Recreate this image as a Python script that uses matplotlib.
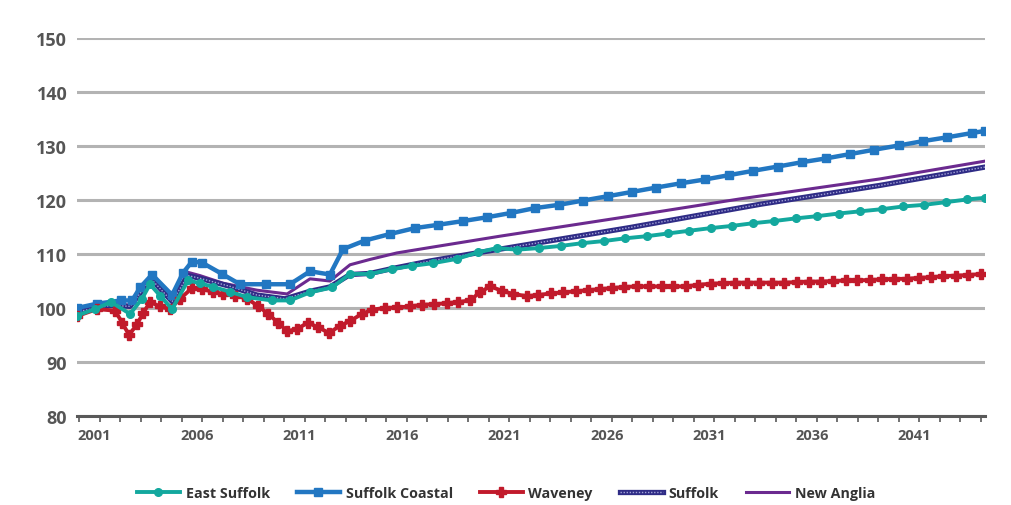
import matplotlib
matplotlib.use("Agg")
import matplotlib.pyplot as plt

plt.rcParams['font.family'] = ['Open Sans', 'DejaVu Sans']

# ---- data (index, 2001 = 100) ----
east_suffolk_x = [2000.90, 2001.78, 2002.56, 2003.49, 2004.07, 2004.46, 2004.95, 2005.54,
                  2006.32, 2006.90, 2007.54, 2008.37, 2009.20, 2010.41, 2011.29, 2012.27,
                  2013.34, 2014.22, 2015.20, 2016.27, 2017.24, 2018.27, 2019.44, 2020.46,
                  2021.39, 2022.37, 2023.44, 2024.51, 2025.54, 2026.61, 2027.63, 2028.71,
                  2029.73, 2030.76, 2031.83, 2032.85, 2033.88, 2034.90, 2035.98, 2037.00,
                  2038.07, 2039.10, 2040.17, 2041.20, 2042.22, 2043.29, 2044.32, 2045.20]
east_suffolk = [98.6, 99.8, 101.1, 98.9, 101.7, 104.4, 102.3, 99.8,
                105.1, 104.6, 103.9, 103.0, 102.0, 101.4, 101.4, 102.9,
                103.8, 106.3, 106.3, 107.2, 107.8, 108.3, 109.1, 110.3,
                111.1, 110.8, 111.1, 111.5, 112.0, 112.4, 112.9, 113.3,
                113.8, 114.3, 114.8, 115.2, 115.7, 116.1, 116.6, 117.0,
                117.5, 117.9, 118.3, 118.8, 119.1, 119.6, 120.1, 120.4]

coastal_x = [2000.90, 2001.88, 2003.05, 2003.59, 2003.98, 2004.56, 2005.54, 2006.07,
             2006.51, 2007.00, 2007.98, 2008.85, 2010.12, 2011.29, 2012.27, 2013.24,
             2013.88, 2014.95, 2016.17, 2017.39, 2018.51, 2019.73, 2020.90, 2022.07,
             2023.24, 2024.41, 2025.59, 2026.80, 2027.98, 2029.15, 2030.37, 2031.54,
             2032.71, 2033.88, 2035.10, 2036.27, 2037.44, 2038.61, 2039.78, 2041.00,
             2042.17, 2043.34, 2044.56, 2045.20]
suffolk_coastal = [100.0, 100.8, 101.4, 101.4, 103.8, 106.2, 102.4, 106.5,
                   108.6, 108.4, 106.3, 104.4, 104.4, 104.4, 106.8, 106.2,
                   110.9, 112.5, 113.7, 114.8, 115.4, 116.1, 116.8, 117.6,
                   118.5, 119.1, 119.9, 120.7, 121.5, 122.3, 123.1, 123.8,
                   124.6, 125.4, 126.2, 127.0, 127.7, 128.5, 129.3, 130.1,
                   130.9, 131.6, 132.4, 132.8]

waveney_x = [2000.90, 2001.88, 2002.76, 2003.10, 2003.44, 2003.83, 2004.12, 2004.46,
             2004.95, 2005.44, 2005.93, 2006.51, 2007.00, 2007.54, 2008.02, 2008.61,
             2009.20, 2009.73, 2010.22, 2010.71, 2011.15, 2011.63, 2012.17, 2012.66,
             2013.20, 2013.73, 2014.22, 2014.80, 2015.29, 2015.93, 2016.51, 2017.15,
             2017.73, 2018.32, 2018.95, 2019.49, 2020.07, 2020.56, 2021.05, 2021.63,
             2022.17, 2022.85, 2023.39, 2024.02, 2024.61, 2025.24, 2025.83, 2026.41,
             2027.00, 2027.59, 2028.22, 2028.80, 2029.44, 2029.98, 2030.61, 2031.20,
             2031.83, 2032.41, 2033.00, 2033.59, 2034.17, 2034.80, 2035.39, 2036.02,
             2036.61, 2037.20, 2037.78, 2038.41, 2038.95, 2039.59, 2040.17, 2040.76,
             2041.39, 2041.98, 2042.56, 2043.15, 2043.78, 2044.37, 2045.00]
waveney = [98.5, 99.8, 99.5, 97.3, 95.0, 97.0, 99.0, 101.1,
           100.3, 99.8, 101.7, 103.7, 103.5, 103.0, 102.6, 102.3,
           101.7, 100.4, 98.9, 97.3, 95.7, 96.1, 97.3, 96.4,
           95.4, 96.7, 97.6, 98.9, 99.7, 100.0, 100.1, 100.3,
           100.6, 100.7, 100.9, 101.1, 101.4, 102.9, 104.0, 103.2,
           102.6, 102.2, 102.4, 102.7, 102.9, 103.1, 103.3, 103.5,
           103.7, 103.9, 104.0, 104.0, 104.0, 104.0, 104.0, 104.3,
           104.5, 104.6, 104.7, 104.7, 104.7, 104.7, 104.7, 104.8,
           104.9, 104.9, 105.0, 105.1, 105.1, 105.2, 105.3, 105.4,
           105.4, 105.6, 105.7, 105.9, 106.0, 106.1, 106.3]

suffolk_x = [2000.90, 2002.56, 2003.49, 2004.51, 2005.54, 2006.32, 2006.90, 2008.37,
             2009.68, 2011.05, 2012.27, 2013.24, 2014.22, 2015.20, 2016.27, 2018.12,
             2020.56, 2021.54, 2027.88, 2034.22, 2040.07, 2045.20]
suffolk = [99.3, 100.5, 100.3, 105.4, 101.2, 106.0, 105.5, 104.0,
           102.4, 101.7, 103.1, 103.9, 106.2, 106.4, 107.3, 108.7,
           110.3, 110.9, 114.9, 119.2, 122.7, 126.1]

anglia_x = [2000.90, 2002.56, 2003.49, 2004.51, 2005.54, 2006.32, 2006.90, 2008.02,
            2009.68, 2011.15, 2012.27, 2013.24, 2014.22, 2015.20, 2016.51, 2018.12,
            2021.54, 2027.88, 2033.24, 2040.07, 2045.20]
new_anglia = [99.5, 100.7, 100.5, 105.9, 101.5, 106.6, 106.0, 104.6,
              103.3, 102.6, 105.4, 105.0, 108.0, 109.0, 110.2, 111.2,
              113.3, 117.0, 120.2, 123.9, 127.2]

label_years = [2001, 2006, 2011, 2016, 2021, 2026, 2031, 2036, 2041]
tick_years = list(range(2001, 2046))
y_ticks = [80, 90, 100, 110, 120, 130, 140, 150]

# ---- figure ----
fig = plt.figure(figsize=(10.12, 5.06), dpi=100)
ax = fig.add_axes([77 / 1012, 89 / 506, 908 / 1012, 378 / 506])

c_teal = '#13a89e'
c_blue = '#2277c2'
c_red = '#c11a2b'
c_navy = '#2f2c86'
c_purple = '#6b2a8f'

l_es, = ax.plot(east_suffolk_x, east_suffolk, color=c_teal, lw=2.8, marker='o',
                markersize=5.5, zorder=6, label='East Suffolk')
l_sc, = ax.plot(coastal_x, suffolk_coastal, color=c_blue, lw=3.2, marker='s',
                markersize=5.5, zorder=5, label='Suffolk Coastal')
l_wv, = ax.plot(waveney_x, waveney, color=c_red, lw=2.8, marker='P',
                markersize=6.5, zorder=5, label='Waveney')
l_sf, = ax.plot(suffolk_x, suffolk, color=c_navy, lw=3.8, zorder=4)
l_sf_dots, = ax.plot(suffolk_x, suffolk, color='#a4a4d8', lw=1.0,
                     linestyle=(0, (1, 1.2)), zorder=4)
l_na, = ax.plot(anglia_x, new_anglia, color=c_purple, lw=2.2, zorder=3)

ax.set_xlim(2000.9, 2045.2)
ax.set_ylim(80, 150)

ax.set_yticks(y_ticks)
ax.set_yticklabels([str(v) for v in y_ticks], fontsize=13, fontweight='bold', color='#555555')
ax.tick_params(axis='y', length=0, pad=7)

ax.set_xticks(tick_years)
ax.set_xticklabels([])
ax.tick_params(axis='x', which='major', length=4, width=1.3, color='#666666', direction='out')
ax.set_xticks([y + 0.75 for y in label_years], minor=True)
ax.set_xticklabels([str(y) for y in label_years], minor=True, fontsize=10.5,
                   fontweight='bold', color='#555555')
ax.tick_params(axis='x', which='minor', length=0, pad=9)

ax.grid(axis='y', color='#b3b3b3', lw=2.2)
ax.set_axisbelow(True)
for s in ['top', 'right', 'left']:
    ax.spines[s].set_visible(False)
ax.spines['bottom'].set_color('#595959')
ax.spines['bottom'].set_linewidth(2.2)
ax.spines['bottom'].set_zorder(7)

fig.legend([l_es, l_sc, l_wv, (l_sf, l_sf_dots), l_na],
           ['East Suffolk', 'Suffolk Coastal', 'Waveney', 'Suffolk', 'New Anglia'],
           loc='center', bbox_to_anchor=(0.5, 1 - 494 / 506), ncol=5, frameon=False,
           prop={'size': 10.3, 'weight': 'bold'}, handlelength=3.0,
           handletextpad=0.4, columnspacing=1.9, labelcolor='#333333')

fig.savefig('out.png', dpi=100, facecolor='white')
